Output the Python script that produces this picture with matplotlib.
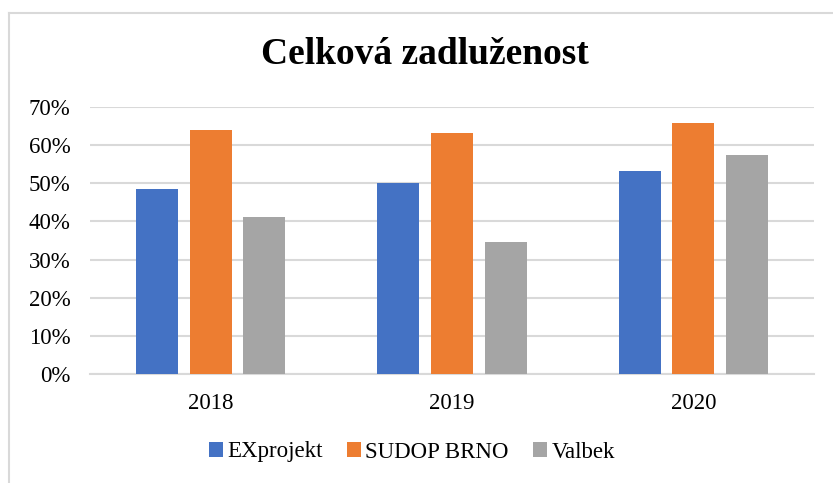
import matplotlib.pyplot as plt
import numpy as np
from matplotlib.lines import Line2D
from matplotlib.ticker import PercentFormatter

years = ['2018', '2019', '2020']
exprojekt = [48.4, 50.0, 53.3]
sudop = [64.0, 63.1, 65.7]
valbek = [41.2, 34.7, 57.3]
series = ['EXprojekt', 'SUDOP BRNO', 'Valbek']
colors = ['#4472C4', '#ED7D31', '#A5A5A5']

plt.rcParams['font.family'] = ['Liberation Serif', 'DejaVu Serif']

fig = plt.figure(figsize=(8.33, 4.83), dpi=100)
ax = fig.add_axes([90/833, 1-374/483, 724/833, 267/483])

x = np.arange(len(years))
w = 0.174
step = 0.222
for i, (vals, name, c) in enumerate(zip([exprojekt, sudop, valbek], series, colors)):
    ax.bar(x + (i-1)*step, vals, width=w, color=c, label=name, zorder=3)

ax.set_xlim(-0.5, 2.5)
ax.set_ylim(0, 70)
ax.set_yticks(np.arange(0, 71, 10))
ax.yaxis.set_major_formatter(PercentFormatter(decimals=0))
ax.set_xticks(x)
ax.set_xticklabels(years)
ax.grid(axis='y', color='#d9d9d9', linewidth=1.5, zorder=0)
ax.tick_params(axis='both', length=0, labelsize=16.5, colors='#000000')
ax.tick_params(axis='y', pad=14)
ax.tick_params(axis='x', pad=14)
for s in ['top', 'right', 'left']:
    ax.spines[s].set_visible(False)
ax.spines['bottom'].set_color('#d9d9d9')
ax.spines['bottom'].set_linewidth(1.5)

fig.text(425/833, 1-54/483, 'Celková zadluženost', ha='center', va='center',
         fontsize=27, fontweight='bold')

fig.legend(loc='center', bbox_to_anchor=(412/833, 1-452/483), ncol=3, frameon=False,
           fontsize=16.5, handlelength=0.6, handleheight=0.6, handletextpad=0.2,
           columnspacing=1.05)

# outer chart frame
fig.add_artist(Line2D([8.5/833, 8.5/833], [0, 1-13/483], color='#d9d9d9', lw=1.5,
                      transform=fig.transFigure))
fig.add_artist(Line2D([8.5/833, 1], [1-13/483, 1-13/483], color='#d9d9d9', lw=1.5,
                      transform=fig.transFigure))

fig.savefig('out.png', dpi=100)
